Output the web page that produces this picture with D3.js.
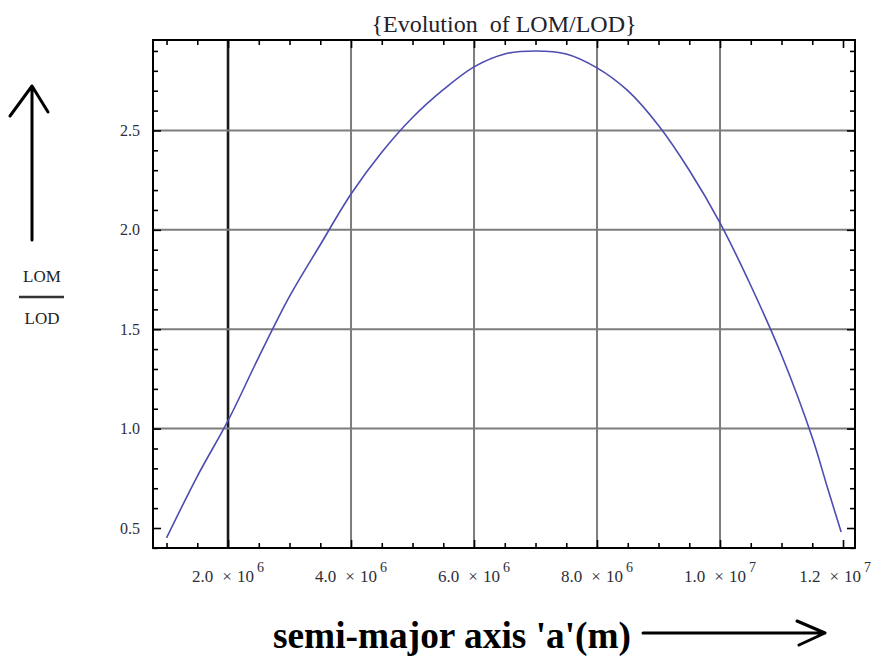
<!DOCTYPE html>
<html>
<head>
<meta charset="utf-8">
<script src="https://cdn.jsdelivr.net/npm/d3@7"></script>
<style>
  html, body { margin: 0; padding: 0; background: #fff; }
  svg { display: block; }
  text { font-family: "Liberation Serif", "Times New Roman", serif; }
</style>
</head>
<body>
<svg id="chart" width="873" height="656"></svg>
<script>
// ---- data (semi-major axis in units of 1e6 m) ----
const aValues = [1.0, 1.5, 2.0, 2.5, 3.0, 3.5, 4.0, 4.5, 5.0, 5.5, 6.0, 6.5, 7.0,
                 7.5, 8.0, 8.5, 9.0, 9.5, 10.0, 10.5, 11.0, 11.5, 11.75, 11.97];
const ratioValues = [0.45, 0.76, 1.04, 1.36, 1.665, 1.925, 2.18, 2.39, 2.565, 2.705, 2.82, 2.885, 2.90,
                     2.885, 2.815, 2.70, 2.525, 2.30, 2.035, 1.72, 1.37, 0.955, 0.70, 0.48];
const xMajorTicks = [2, 4, 6, 8, 10, 12];
const xTickMantissa = ["2.0", "4.0", "6.0", "8.0", "1.0", "1.2"];
const xTickExponent = ["6", "6", "6", "6", "7", "7"];
const yMajorTicks = [0.5, 1.0, 1.5, 2.0, 2.5];
const yTickLabels = ["0.5", "1.0", "1.5", "2.0", "2.5"];
const titleText = "{Evolution  of LOM/LOD}";
const xAxisTitle = "semi-major axis 'a'(m)";
const yNumerator = "LOM";
const yDenominator = "LOD";

// ---- layout ----
const L = 153, R = 855, T = 40, B = 548;
const svg = d3.select("#chart");
const x = d3.scaleLinear().domain([0.78, 12.195]).range([L, R]);
const y = d3.scaleLinear().domain([0.3994, 2.955]).range([B, T]);

const xMinor = d3.range(1.0, 12.01, 0.5).filter(v => !xMajorTicks.some(m => Math.abs(m - v) < 1e-6));
const yMinor = d3.range(0.4, 2.951, 0.1).filter(v => !yMajorTicks.some(m => Math.abs(m - v) < 1e-6));

// ---- grid lines ----
const grid = svg.append("g");
grid.selectAll("line.gx").data(xMajorTicks.filter(v => v < 12)).join("line")
  .attr("x1", d => x(d)).attr("x2", d => x(d)).attr("y1", T).attr("y2", B)
  .attr("stroke", d => d === 2 ? "#1a1a1a" : "#7d7d7d")
  .attr("stroke-width", d => d === 2 ? 2.6 : 2);
grid.selectAll("line.gy").data(yMajorTicks.filter(v => v > 0.5)).join("line")
  .attr("x1", L).attr("x2", R).attr("y1", d => y(d)).attr("y2", d => y(d))
  .attr("stroke", "#7d7d7d").attr("stroke-width", 2);

// ---- curve ----
const pts = aValues.map((a, i) => [a, ratioValues[i]]);
svg.append("path").datum(pts)
  .attr("fill", "none").attr("stroke", "#4c4cb2").attr("stroke-width", 1.6)
  .attr("d", d3.line().x(d => x(d[0])).y(d => y(d[1])).curve(d3.curveCatmullRom.alpha(0.5)));

// ---- axes (ticks inward on all four sides) ----
function styleAxis(g) {
  g.select(".domain").remove();
  g.selectAll(".tick line").attr("stroke", "#000").attr("stroke-width", 1.6);
  g.selectAll(".tick text").remove();
}
const xMajorIn = xMajorTicks.filter(v => v < 12.19);
svg.append("g").attr("transform", `translate(0,${B})`)
  .call(d3.axisBottom(x).tickValues(xMajorIn).tickSize(-8).tickFormat("")).call(styleAxis);
svg.append("g").attr("transform", `translate(0,${B})`)
  .call(d3.axisBottom(x).tickValues(xMinor).tickSize(-5).tickFormat("")).call(styleAxis);
svg.append("g").attr("transform", `translate(0,${T})`)
  .call(d3.axisTop(x).tickValues(xMajorIn).tickSize(-8).tickFormat("")).call(styleAxis);
svg.append("g").attr("transform", `translate(0,${T})`)
  .call(d3.axisTop(x).tickValues(xMinor).tickSize(-5).tickFormat("")).call(styleAxis);
svg.append("g").attr("transform", `translate(${L},0)`)
  .call(d3.axisLeft(y).tickValues(yMajorTicks).tickSize(-8).tickFormat("")).call(styleAxis);
svg.append("g").attr("transform", `translate(${L},0)`)
  .call(d3.axisLeft(y).tickValues(yMinor).tickSize(-5).tickFormat("")).call(styleAxis);
svg.append("g").attr("transform", `translate(${R},0)`)
  .call(d3.axisRight(y).tickValues(yMajorTicks).tickSize(-8).tickFormat("")).call(styleAxis);
svg.append("g").attr("transform", `translate(${R},0)`)
  .call(d3.axisRight(y).tickValues(yMinor).tickSize(-5).tickFormat("")).call(styleAxis);

// ---- frame ----
svg.append("rect").attr("x", L).attr("y", T).attr("width", R - L).attr("height", B - T)
  .attr("fill", "none").attr("stroke", "#000").attr("stroke-width", 2);

// ---- tick labels ----
const labColor = "#2e2e38";
xMajorTicks.forEach((v, i) => {
  const t = svg.append("text").attr("x", x(v)).attr("y", 582)
    .attr("text-anchor", "middle").attr("font-size", 17).attr("fill", labColor);
  t.append("tspan").text(xTickMantissa[i]);
  t.append("tspan").attr("dx", 9).text("×");
  t.append("tspan").attr("dx", 5).text("10");
  t.append("tspan").attr("dx", 3).attr("dy", -10).attr("font-size", 14).text(xTickExponent[i]);
  // keep the label inside the picture
  const bb = t.node().getBBox();
  if (bb.x + bb.width > 871) t.attr("x", x(v) - (bb.x + bb.width - 871));
});
yMajorTicks.forEach((v, i) => {
  svg.append("text").attr("x", 140).attr("y", y(v)).attr("dy", "0.35em")
    .attr("text-anchor", "end").attr("font-size", 16).attr("fill", labColor)
    .text(yTickLabels[i]);
});

// ---- title ----
svg.append("text").attr("x", (L + R) / 2).attr("y", 32)
  .attr("text-anchor", "middle").attr("font-size", 24).attr("fill", "#22222c")
  .style("white-space", "pre").text(titleText);

// ---- y label: LOM / LOD fraction with up arrow ----
svg.append("text").attr("x", 42).attr("y", 282).attr("text-anchor", "middle")
  .attr("font-size", 17).attr("fill", "#222").text(yNumerator);
svg.append("line").attr("x1", 19).attr("x2", 64).attr("y1", 297).attr("y2", 297)
  .attr("stroke", "#333").attr("stroke-width", 2.5);
svg.append("text").attr("x", 42).attr("y", 324).attr("text-anchor", "middle")
  .attr("font-size", 17).attr("fill", "#222").text(yDenominator);
svg.append("path").attr("d", "M32,240 L32,86 M10,116 L32,86 L48,112")
  .attr("fill", "none").attr("stroke", "#000").attr("stroke-width", 3)
  .attr("stroke-linecap", "round").attr("stroke-linejoin", "round");

// ---- x label with right arrow ----
svg.append("text").attr("x", 273).attr("y", 648)
  .attr("font-size", 37).attr("font-weight", "bold").attr("fill", "#000")
  .attr("textLength", 358).attr("lengthAdjust", "spacingAndGlyphs")
  .text(xAxisTitle);
svg.append("path").attr("d", "M643,633 L825,633 M797,621 L825,633 L799,645")
  .attr("fill", "none").attr("stroke", "#000").attr("stroke-width", 3)
  .attr("stroke-linecap", "round").attr("stroke-linejoin", "round");
</script>
</body>
</html>
